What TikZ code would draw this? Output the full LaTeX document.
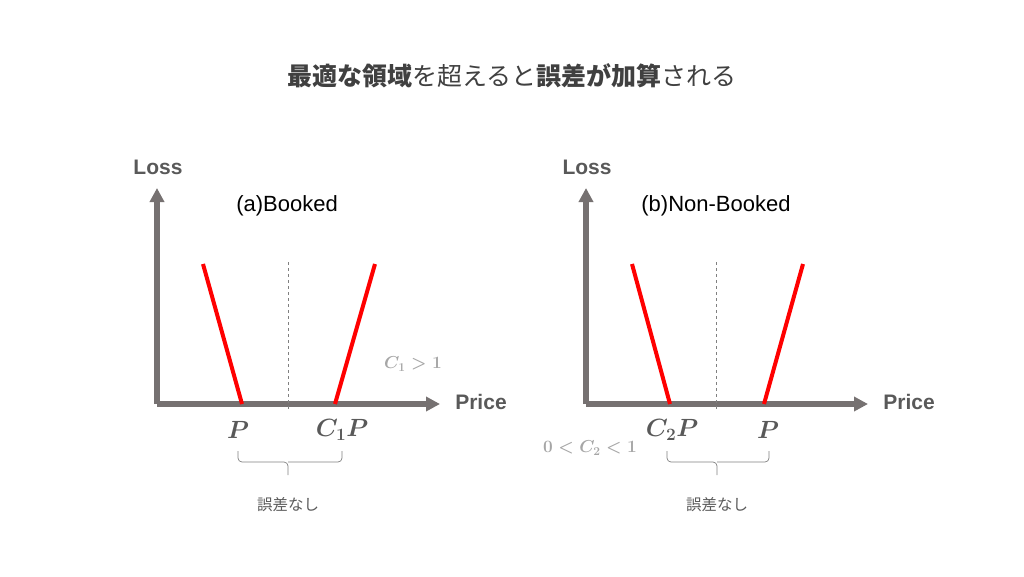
\documentclass[tikz,border=0pt]{standalone}
\usepackage{amsmath,bm}
\usepackage{fontspec}
\setmainfont{Liberation Sans}
\newfontfamily\cjk{Noto Sans CJK JP}
\usetikzlibrary{arrows.meta}
\definecolor{axisgray}{HTML}{767171}
\definecolor{txtgray}{HTML}{595959}
\definecolor{titlegray}{HTML}{404040}
\definecolor{lightg}{HTML}{A6A6A6}
\tikzset{
  axis/.style={line width=5.5pt,axisgray,-{Triangle[length=14pt,width=14pt]}},
  redline/.style={line width=4pt,red},
  guide/.style={dashed,gray,line width=0.6pt},
  axlabel/.style={font=\bfseries\fontsize{21}{24}\selectfont,text=txtgray},
  plabel/.style={font=\boldmath\fontsize{27}{30}\selectfont,text=txtgray},
  note/.style={font=\boldmath\fontsize{17}{20}\selectfont,text=lightg},
  panel/.style={font=\fontsize{22}{26}\selectfont,text=black},
  bracep/.style={gray,line width=0.7pt,rounded corners=4pt},
  captxt/.style={font=\cjk\fontsize{15.5}{18}\selectfont,text=txtgray}
}
\begin{document}
\begin{tikzpicture}[x=1pt,y=-1pt]
\useasboundingbox (0,0) rectangle (1024,576);
\node[font=\cjk\fontsize{25}{30}\selectfont,text=titlegray] (title) at (512,76)
  {\textbf{最適な領域}を超えると\textbf{誤差が加算}される};
% panel a
\coordinate (oa) at (157,404);
\coordinate (ya) at (157,188);
\coordinate (xa) at (440,404);
\draw[axis] (oa) -- (ya);
\draw[axis] (oa) -- (xa);
\coordinate (da1) at (288,262); \coordinate (da2) at (288,410);
\draw[guide] (da1) -- (da2);
\coordinate (ra1) at (203,264); \coordinate (ra2) at (242,404);
\coordinate (ra3) at (335,404); \coordinate (ra4) at (375,264);
\draw[redline] (ra1) -- (ra2);
\draw[redline] (ra3) -- (ra4);
\node[axlabel] (lossa) at (158,167) {Loss};
\node[panel] (tita) at (287,206) {(a)Booked};
\node[axlabel] (pricea) at (481,402) {Price};
\node[plabel] (pa) at (238,430) {$P$};
\node[plabel] (cpa) at (342,430) {$C_1P$};
\node[note] (ca) at (413,364) {$C_1>1$};
\draw[bracep] (238,451) |- (288,462) -- (288,475);
\draw[bracep] (342,451) |- (288,462);
\node[captxt] (capa) at (288,505) {誤差なし};
% panel b
\coordinate (ob) at (586,404);
\coordinate (yb) at (586,188);
\coordinate (xb) at (868,404);
\draw[axis] (ob) -- (yb);
\draw[axis] (ob) -- (xb);
\coordinate (db1) at (716,262); \coordinate (db2) at (716,410);
\draw[guide] (db1) -- (db2);
\coordinate (rb1) at (632,264); \coordinate (rb2) at (670,404);
\coordinate (rb3) at (764,404); \coordinate (rb4) at (803,264);
\draw[redline] (rb1) -- (rb2);
\draw[redline] (rb3) -- (rb4);
\node[axlabel] (lossb) at (587,167) {Loss};
\node[panel] (titb) at (716,206) {(b)Non-Booked};
\node[axlabel] (priceb) at (909,402) {Price};
\node[plabel] (cpb) at (672,430) {$C_2P$};
\node[plabel] (pb) at (768,430) {$P$};
\node[note] (cb) at (590,448) {$0<C_2<1$};
\draw[bracep] (667,451) |- (717,462) -- (717,475);
\draw[bracep] (769,451) |- (717,462);
\node[captxt] (capb) at (717,505) {誤差なし};
\end{tikzpicture}
\end{document}
